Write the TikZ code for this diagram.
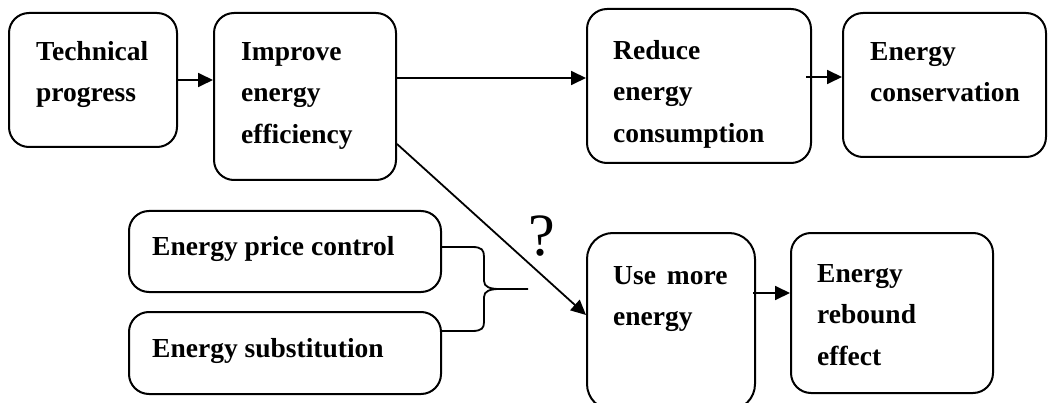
\documentclass[tikz,border=0pt]{standalone}
\usepackage{fontspec}
\setmainfont{Liberation Serif}
\usetikzlibrary{arrows.meta,calc}
\tikzset{
  box/.style={draw, line width=2pt, rounded corners=20pt, inner sep=0pt},
  lbl/.style={anchor=north west, inner sep=0pt, align=left,
    font=\fontsize{27.5}{41.5}\selectfont\bfseries},
  conn/.style={line width=1.8pt, -{Triangle[length=15pt,width=14pt]}},
  brace/.style={line width=1.8pt}
}
\newcommand{\fl}{\rule{0pt}{19.5pt}}
\begin{document}
\begin{tikzpicture}[x=1pt,y=-1pt]
\clip (0,0) rectangle (1048,403);
% boxes
\node[box, minimum width=168pt, minimum height=134pt] (b1) at (93,80) {};
\node[box, minimum width=182pt, minimum height=167pt] (b2) at (305,96.5) {};
\node[box, minimum width=224pt, minimum height=154pt] (b3) at (699,86) {};
\node[box, minimum width=203pt, minimum height=144pt] (b4) at (944.5,85) {};
\node[box, minimum width=168pt, minimum height=177pt, rounded corners=26pt] (b5) at (671,321.5) {};
\node[box, minimum width=202pt, minimum height=160pt] (b6) at (892,313) {};
\node[box, minimum width=312pt, minimum height=81pt] (b7) at (285,251.5) {};
\node[box, minimum width=312pt, minimum height=82pt] (b8) at (285,353) {};
% labels
\node[lbl] (t1) at ($(b1.north west)+(28,28.7)$) {\fl Technical\\progress};
\node[lbl] (t2) at ($(b2.north west)+(28,28.7)$) {\fl Improve\\energy\\efficiency};
\node[lbl] (t3) at ($(b3.north west)+(27,31.7)$) {\fl Reduce\\energy\\consumption};
\node[lbl] (t4) at ($(b4.north west)+(28,28.7)$) {\fl Energy\\conservation};
\node[lbl] (t5) at ($(b5.north west)+(27,32.7)$) {\fl Use\hspace{0.4em}more\\energy};
\node[lbl] (t6) at ($(b6.north west)+(27,30.7)$) {\fl Energy\\rebound\\effect};
\node[lbl] (t7) at ($(b7.north west)+(24,25.7)$) {\fl Energy price control};
\node[lbl] (t8) at ($(b8.north west)+(24,26.7)$) {\fl Energy substitution};
% question mark
\node[anchor=base, inner sep=0pt, font=\fontsize{60}{62}\selectfont] (q) at (542,255) {?};
% connectors
\draw[conn] (b1.east) -- (b1.east -| b2.west);
\draw[conn] ([yshift=18.5pt]b2.east) -- ([yshift=18.5pt]b2.east -| b3.west);
\draw[conn] ([xshift=-6pt,yshift=9pt]b3.east) -- ([yshift=9pt]b3.east -| b4.west);
\draw[conn] ([xshift=-3pt,yshift=28.5pt]b5.east) -- ([yshift=28.5pt]b5.east -| b6.west);
\draw[conn] ([yshift=-47.5pt]b2.east) -- ([yshift=6.5pt]b5.west);
% brace
\coordinate (tip) at (528,289);
\draw[brace] ([yshift=4.5pt]b7.east) -- (472,247) .. controls (482,247) and (484,250) .. (484,257)
  -- (484,281) .. controls (484,287) and (490,289) .. (500,289) -- (tip);
\draw[brace] (500,289) .. controls (490,289) and (484,291) .. (484,297)
  -- (484,322) .. controls (484,328) and (482,331) .. (472,331) -- (b8.north east |- 0,331);
\end{tikzpicture}
\end{document}
